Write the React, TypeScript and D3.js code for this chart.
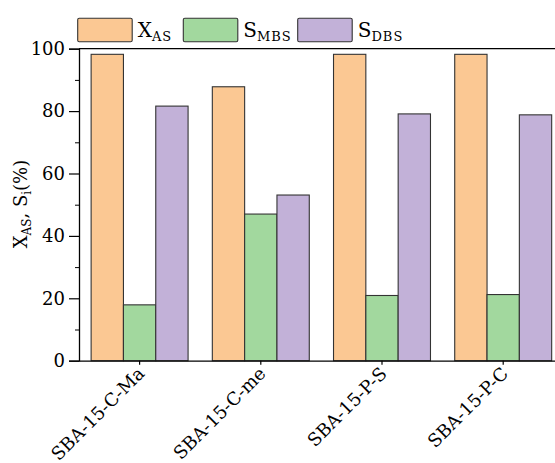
import React, { useEffect, useRef } from "react";
import * as d3 from "d3";

const categories = ["SBA-15-C-Ma", "SBA-15-C-me", "SBA-15-P-S", "SBA-15-P-C"];
const seriesKeys = ["XAS", "SMBS", "SDBS"];
const xAS = [98.2, 87.8, 98.2, 98.2];
const sMBS = [17.9, 47.0, 20.9, 21.2];
const sDBS = [81.6, 53.1, 79.1, 78.8];
const yTicks = [0, 20, 40, 60, 80, 100];
const colors = ["#FBC893", "#A2D89E", "#C2B1D8"];

const App = () => {
  const svgRef = useRef<SVGSVGElement>(null);

  useEffect(() => {
    const svg = d3.select(svgRef.current);
    svg.selectAll("*").remove();

    const font = "'DejaVu Serif', 'Liberation Serif', serif";
    const left = 79;
    const top = 48.7;
    const bottom = 360.7;
    const step = 121.2;

    const x = d3.scaleBand<string>()
      .domain(categories)
      .range([left, left + step * categories.length])
      .paddingInner(0.2)
      .paddingOuter(0.1);

    const xs = d3.scaleBand<string>()
      .domain(seriesKeys)
      .range([0, x.bandwidth()]);

    const y = d3.scaleLinear().domain([0, 100]).range([bottom, top]);

    const values = [xAS, sMBS, sDBS];
    const rows = categories.map((c, i) => ({
      cat: c,
      vals: seriesKeys.map((k, j) => ({ key: k, v: values[j][i], color: colors[j] })),
    }));

    // bars
    const g = svg.append("g");
    g.selectAll("g.grp")
      .data(rows)
      .enter()
      .append("g")
      .attr("transform", d => `translate(${x(d.cat)},0)`)
      .selectAll("rect")
      .data(d => d.vals)
      .enter()
      .append("rect")
      .attr("x", d => xs(d.key)!)
      .attr("y", d => y(d.v))
      .attr("width", xs.bandwidth())
      .attr("height", d => bottom - y(d.v))
      .attr("fill", d => d.color)
      .attr("stroke", "#333")
      .attr("stroke-width", 1.1);

    // frame top line
    svg.append("line")
      .attr("x1", left).attr("x2", 600)
      .attr("y1", top).attr("y2", top)
      .attr("stroke", "#000").attr("stroke-width", 1.3);

    // y axis
    const yAxis = svg.append("g")
      .attr("transform", `translate(${left},0)`)
      .call(d3.axisLeft(y).tickValues(yTicks).tickSize(10).tickPadding(4));
    yAxis.select(".domain").attr("stroke-width", 1.3);
    yAxis.selectAll("line").attr("stroke-width", 1.2);
    yAxis.selectAll("text")
      .attr("font-family", font)
      .attr("font-size", 18)
      .attr("fill", "#000");

    const yMinor = svg.append("g")
      .attr("transform", `translate(${left},0)`)
      .call(d3.axisLeft(y).tickValues([10, 30, 50, 70, 90]).tickSize(4).tickFormat(() => ""));
    yMinor.select(".domain").remove();

    // x axis
    const xAxis = svg.append("g")
      .attr("transform", `translate(0,${bottom})`)
      .call(d3.axisBottom(x).tickSize(4).tickSizeOuter(0).tickFormat(() => ""));
    xAxis.select(".domain").attr("stroke-width", 1.3);
    xAxis.selectAll("line").attr("stroke-width", 1.2);

    svg.append("g")
      .selectAll("text")
      .data(categories)
      .enter()
      .append("text")
      .attr("transform", d => `translate(${x(d)! + x.bandwidth() / 2 + 6},${bottom + 14}) rotate(-45)`)
      .attr("text-anchor", "end")
      .attr("font-family", font)
      .attr("font-size", 18)
      .attr("fill", "#000")
      .text(d => d);

    // y label
    const yl = svg.append("text")
      .attr("transform", "translate(27,204) rotate(-90)")
      .attr("text-anchor", "middle")
      .attr("font-family", font)
      .attr("font-size", 18)
      .attr("fill", "#000");
    yl.append("tspan").text("X");
    yl.append("tspan").attr("font-size", 12).attr("dy", 4).text("AS");
    yl.append("tspan").attr("dy", -4).text(", S");
    yl.append("tspan").attr("font-size", 12).attr("dy", 4).text("i");
    yl.append("tspan").attr("dy", -4).text("(%)");

    // legend
    const legendX = [77.7, 183.3, 297.7];
    const labels = [["X", "AS"], ["S", "MBS"], ["S", "DBS"]];
    const lg = svg.append("g")
      .selectAll("g")
      .data(seriesKeys)
      .enter()
      .append("g")
      .attr("transform", (d, i) => `translate(${legendX[i]},18.3)`);
    lg.append("rect")
      .attr("width", 54.5)
      .attr("height", 23.4)
      .attr("rx", 1.5)
      .attr("fill", (d, i) => colors[i])
      .attr("stroke", "#333")
      .attr("stroke-width", 1.1);
    const lt = lg.append("text")
      .attr("x", 60)
      .attr("y", 19)
      .attr("font-family", font)
      .attr("font-size", 20)
      .attr("fill", "#000");
    lt.append("tspan").text((d, i) => labels[i][0]);
    lt.append("tspan")
      .attr("font-size", 13)
      .attr("dy", 4)
      .attr("letter-spacing", 1)
      .text((d, i) => labels[i][1]);
  }, []);

  return <svg ref={svgRef} width={555} height={463} style={{ position: "absolute", left: 0, top: 0, background: "#fff" }} />;
};

export default App;
